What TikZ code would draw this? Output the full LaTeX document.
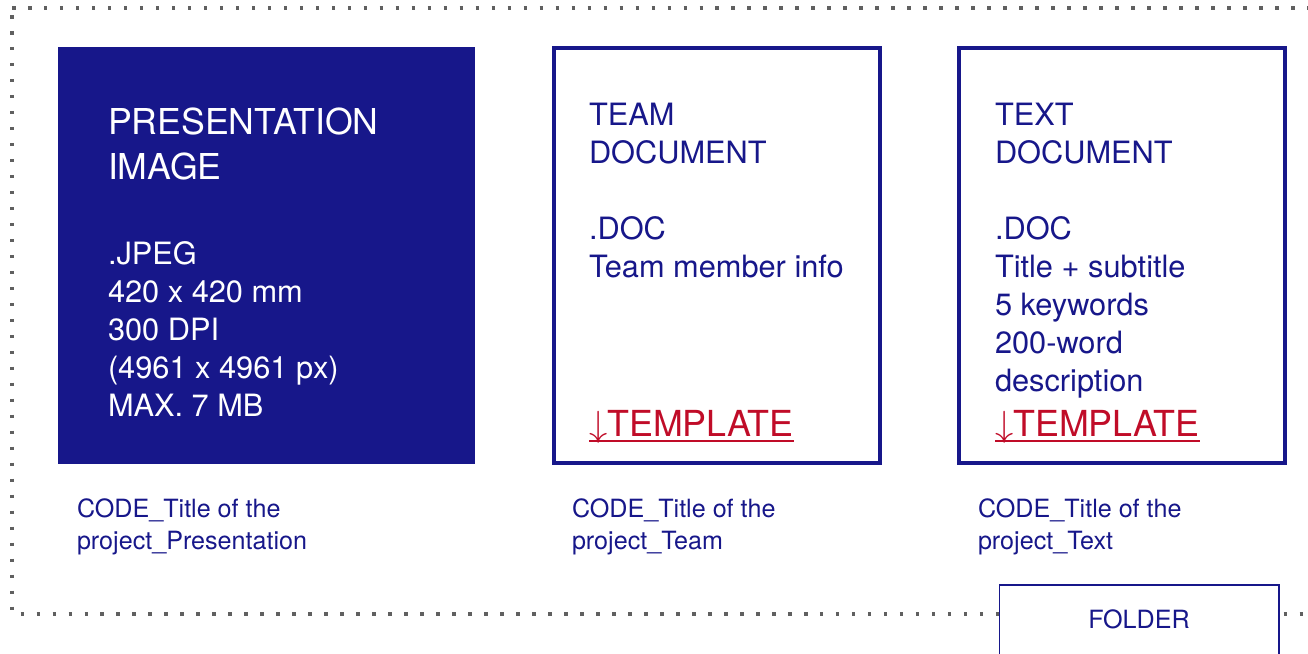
\documentclass[tikz,border=0pt]{standalone}
\usepackage{fontspec}
\setmainfont{TeX Gyre Heros}
\usetikzlibrary{positioning}
\definecolor{docblue}{RGB}{23,23,138}
\definecolor{tmplred}{RGB}{192,12,40}
\definecolor{dotgrey}{RGB}{96,96,96}

\begin{document}
\begin{tikzpicture}[x=0.02cm,y=-0.02cm,inner sep=0pt,outer sep=0pt]
  \tikzstyle{filebox}=[draw=docblue,line width=2.2pt,minimum width=6.52cm,minimum height=8.3cm]
  \tikzstyle{body}=[anchor=base west,align=left,text=docblue,font=\fontsize{17.5}{21.6}\selectfont]
  \tikzstyle{caption}=[anchor=base west,align=left,text=docblue,font=\fontsize{14.3}{18.2}\selectfont]
  \tikzstyle{template}=[anchor=base west,text=tmplred,font=\fontsize{20.4}{24}\selectfont]
  \tikzstyle{dotline}=[draw=dotgrey,line width=2pt,dash pattern=on 2pt off 7.1pt]
  \useasboundingbox (0,0) rectangle (1308,653);

  % folder outline (base anchor = last line)
  \draw[dotline] (12,8) -- (1308,8);
  \draw[dotline] (12,15) -- (12,614) -- (1308,614);

  \node[fill=docblue,minimum width=8.35cm,minimum height=8.34cm] (pres) at (266.25,255.5) {};
  \node[filebox] (team) [right=1.58cm of pres] {};
  \node[filebox] (text) [right=1.58cm of team] {};

  \node[body,text=white,font=\fontsize{20.3}{25.6}\selectfont] (prestitle) at (108,179.5) {PRESENTATION\\IMAGE};
  \node[body,text=white] (presspec) at (108,416) {.JPEG\\420 x 420 mm\\300 DPI\\(4961 x 4961 px)\\MAX. 7 MB};

  \node[body] (teamtitle) at (589,163) {TEAM\\DOCUMENT};
  \node[body] (teamspec) at (589,277.5) {.DOC\\Team member info};
  \node[template] (teamtmpl) at (589,436) {$\downarrow$TEMPLATE};
  \draw[tmplred,line width=1.5pt] ([yshift=-2.8pt]teamtmpl.base west) -- ([yshift=-2.8pt]teamtmpl.base east);

  \node[body] (texttitle) at (995,163) {TEXT\\DOCUMENT};
  \node[body] (textspec) at (995,391.5) {.DOC\\Title + subtitle\\5 keywords\\200-word\\description};
  \node[template] (texttmpl) at (995,436) {$\downarrow$TEMPLATE};
  \draw[tmplred,line width=1.5pt] ([yshift=-2.8pt]texttmpl.base west) -- ([yshift=-2.8pt]texttmpl.base east);

  \node[caption] (prescap) at (77,549) {CODE\_Title of the\\project\_Presentation};
  \node[caption] (teamcap) at (572,549) {CODE\_Title of the\\project\_Team};
  \node[caption] (textcap) at (978,549) {CODE\_Title of the\\project\_Text};

  \node[draw=docblue,line width=1pt,fill=white,anchor=north west,minimum width=5.59cm,minimum height=1.7cm] (folder) at (999.5,585) {};
  \node[caption,anchor=base] (foldername) at (1139,628) {FOLDER};
\end{tikzpicture}
\end{document}
